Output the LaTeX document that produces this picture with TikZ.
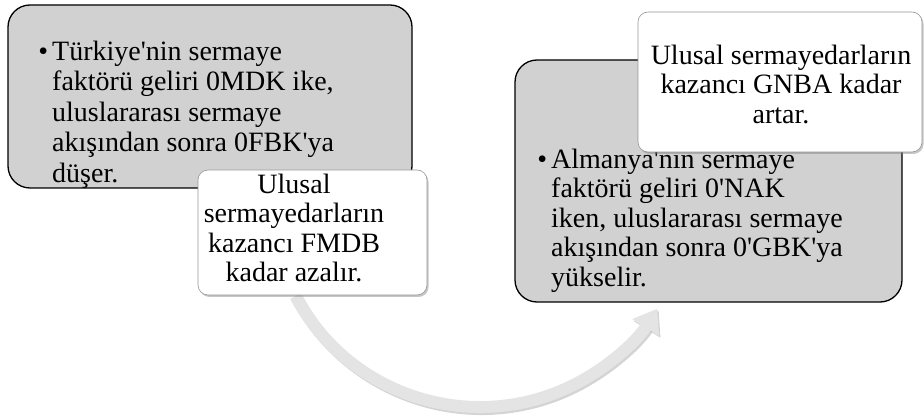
\documentclass[tikz,border=0pt]{standalone}
\usepackage{fontspec}
\setmainfont{Liberation Serif}
\usetikzlibrary{arrows.meta,shadows}

\begin{document}
\begin{tikzpicture}[x=1pt, y=1pt,
    graybox/.style={draw=black, line width=1.3pt, fill=myfill, rounded corners=22pt, inner sep=0pt},
    whitebox/.style={draw=myedge, line width=0.6pt, fill=white, rounded corners=10pt, inner sep=0pt,
        drop shadow={shadow xshift=1.5pt, shadow yshift=-2pt, opacity=0.45}},
    bodytext/.style={inner sep=0pt, font=\fontsize{28}{29.5}\selectfont},
    widetext/.style={inner sep=0pt, font=\fontsize{28}{30.5}\selectfont}]
    \definecolor{myfill}{RGB}{209,209,209}
    \definecolor{myedge}{RGB}{150,150,150}
    \definecolor{myarc}{RGB}{228,228,228}
    \definecolor{myshade}{RGB}{170,170,170}

    \useasboundingbox (0,0) rectangle (924,418);

    % curved arrow behind the boxes
    \coordinate (arcc) at (480,220);
    \draw[myshade, opacity=0.5, line width=12pt, -{Triangle[width=30pt,length=22pt]}]
        ([shift={(208:209)}]arcc) ++(1.5,-2) arc[start angle=208, end angle=328, radius=209];
    \draw[myarc, line width=12pt, -{Triangle[width=30pt,length=22pt]}]
        ([shift={(208:209)}]arcc) arc[start angle=208, end angle=328, radius=209];

    % left side
    \node[graybox, minimum width=404pt, minimum height=183pt] (trbox) at (210,321.5) {};
    \node[widetext, anchor=north west, align=left] (trtext) at (52,379.3)
        {\strut\llap{•\hspace{4pt}}Türkiye\textquotesingle nin sermaye\\
         faktörü geliri 0MDK ike,\\
         uluslararası sermaye\\
         akışından sonra 0FBK\textquotesingle ya\\
         düşer.};
    \node[whitebox, minimum width=229pt, minimum height=125pt] (lossbox) at (312.5,185.5) {};
    \node[bodytext, anchor=north, align=center] (losstext) at (294,245.6)
        {\strut Ulusal\\ sermayedarların\\ kazancı FMDB\\ kadar azalır.};

    % right side
    \node[graybox, minimum width=387pt, minimum height=242pt] (debox) at (708.5,237) {};
    \node[bodytext, anchor=north west, align=left] (detext) at (551,270.7)
        {\strut\llap{•\hspace{4pt}}Almanya\textquotesingle nın sermaye\\
         faktörü geliri 0\textquotesingle NAK\\
         iken, uluslararası sermaye\\
         akışından sonra 0\textquotesingle GBK\textquotesingle ya\\
         yükselir.};
    \node[whitebox, minimum width=284pt, minimum height=140pt] (gainbox) at (780,336) {};
    \node[bodytext, anchor=north, align=center] (gaintext) at (781,374.6)
        {\strut Ulusal sermayedarların\\ kazancı GNBA kadar\\ artar.};
\end{tikzpicture}
\end{document}
